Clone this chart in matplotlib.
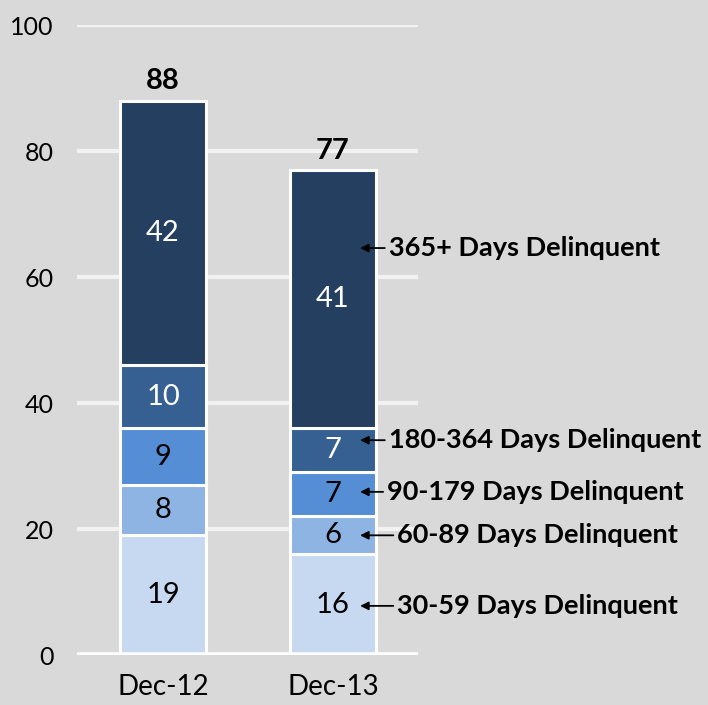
import matplotlib
matplotlib.use("Agg")
import matplotlib.pyplot as plt
import numpy as np

plt.rcParams['font.family'] = ['Lato', 'DejaVu Sans']

periods = ['Dec-12', 'Dec-13']
categories = ['30-59 Days Delinquent', '60-89 Days Delinquent', '90-179 Days Delinquent',
              '180-364 Days Delinquent', '365+ Days Delinquent']
values = {
    '30-59 Days Delinquent': [19, 16],
    '60-89 Days Delinquent': [8, 6],
    '90-179 Days Delinquent': [9, 7],
    '180-364 Days Delinquent': [10, 7],
    '365+ Days Delinquent': [42, 41],
}
totals = [88, 77]
colors = ['#c6d9f1', '#8eb4e3', '#558ed5', '#366092', '#243f60']
label_colors = ['black', 'black', 'black', 'white', 'white']
# y positions of the callout text next to the Dec-13 bar
callout_y = [7.8, 19.0, 25.9, 34.1, 64.6]
callout_text_x = [1.38, 1.38, 1.32, 1.33, 1.33]

fig = plt.figure(figsize=(7.08, 7.05), dpi=100, facecolor='#d9d9d9')
ax = fig.add_axes([0.1088, 0.0709, 0.4814, 0.8936])
ax.set_facecolor('#d9d9d9')

x = np.arange(len(periods))
bottom = np.zeros(len(periods))
for cat, col, lc in zip(categories, colors, label_colors):
    v = np.array(values[cat], dtype=float)
    ax.bar(x, v, bottom=bottom, width=0.506, color=col, edgecolor='white', linewidth=2.2, zorder=3)
    for xi, vi, bi in zip(x, v, bottom):
        ax.text(xi, bi + vi / 2, f'{vi:.0f}', ha='center', va='center', fontsize=21, color=lc, zorder=4)
    bottom += v

for xi, t in zip(x, totals):
    ax.text(xi, t + 1.0, str(t), ha='center', va='bottom', fontsize=21, fontweight='bold', color='black')

for cat, yy, tx in zip(categories, callout_y, callout_text_x):
    ax.annotate(cat, xy=(1.16, yy), xytext=(tx, yy), ha='left', va='center', fontsize=19.5,
                fontweight='bold', annotation_clip=False,
                arrowprops=dict(arrowstyle='-|>', color='black', lw=1.3, mutation_scale=12,
                                shrinkA=1, shrinkB=0))

ax.set_xlim(-0.506, 1.5)
ax.set_ylim(0, 100)
ax.set_yticks([0, 20, 40, 60, 80, 100])
ax.set_xticks(x)
ax.set_xticklabels(periods)
ax.grid(axis='y', color='#f2f2f2', linewidth=3, zorder=0)
ax.axhline(0, color='white', linewidth=4, zorder=5)
for s in ax.spines.values():
    s.set_visible(False)
ax.tick_params(axis='both', length=0, colors='black')
ax.tick_params(axis='y', labelsize=18, pad=17)
ax.tick_params(axis='x', labelsize=20, pad=14)

fig.savefig('out.png', dpi=100, facecolor=fig.get_facecolor())
